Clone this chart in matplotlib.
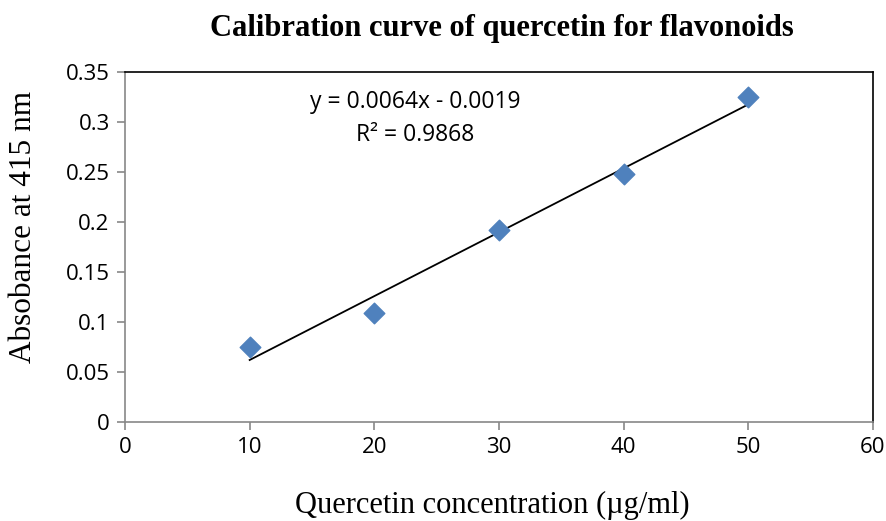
import matplotlib.pyplot as plt
import numpy as np

conc = [10, 20, 30, 40, 50]
absorb = [0.075, 0.109, 0.192, 0.248, 0.325]
xticks = [0, 10, 20, 30, 40, 50, 60]
yticks = [0, 0.05, 0.1, 0.15, 0.2, 0.25, 0.3, 0.35]
ytick_labels = ["0", "0.05", "0.1", "0.15", "0.2", "0.25", "0.3", "0.35"]

serif = "Liberation Serif"
sans = "Open Sans"

fig = plt.figure(figsize=(8.87, 5.21), dpi=100)
ax = fig.add_axes([0.1409, 0.19, 0.8433, 0.6718])

# linear trendline
slope, icpt = np.polyfit(conc, absorb, 1)
xs = np.array([conc[0], conc[-1]])
ax.plot(xs, slope * xs + icpt, color="black", lw=1.3, zorder=2)
ax.scatter(conc, absorb, marker="D", s=110, color="#4f81bd", zorder=3)

ax.set_xlim(0, 60)
ax.set_ylim(0, 0.35)
ax.set_xticks(xticks)
ax.set_yticks(yticks)
ax.set_yticklabels(ytick_labels)
for lab in ax.get_xticklabels() + ax.get_yticklabels():
    lab.set_fontfamily(sans)
    lab.set_fontsize(16)
ax.tick_params(direction="out", length=6, width=1.2, color="#888888", pad=5)
ax.spines["left"].set_color("#888888")
ax.spines["bottom"].set_color("#888888")
for s in ax.spines.values():
    s.set_linewidth(1.2)

ax.text(23.3, 0.32, "y = 0.0064x - 0.0019", ha="center", va="center",
        fontsize=16.5, family=sans)
ax.text(23.3, 0.287, "R² = 0.9868", ha="center", va="center",
        fontsize=16.5, family=sans)

fig.text(0.555, 0.03, "Quercetin concentration (µg/ml)",
         ha="center", va="center", family=serif, fontsize=22)
fig.text(0.027, 0.564, "Absobance at 415 nm", rotation=90,
         ha="center", va="center", family=serif, fontsize=22.5)
fig.text(0.566, 0.945, "Calibration curve of quercetin for flavonoids", family=serif,
         fontsize=22, fontweight="bold", ha="center", va="center")

fig.savefig("out.png", dpi=100)
